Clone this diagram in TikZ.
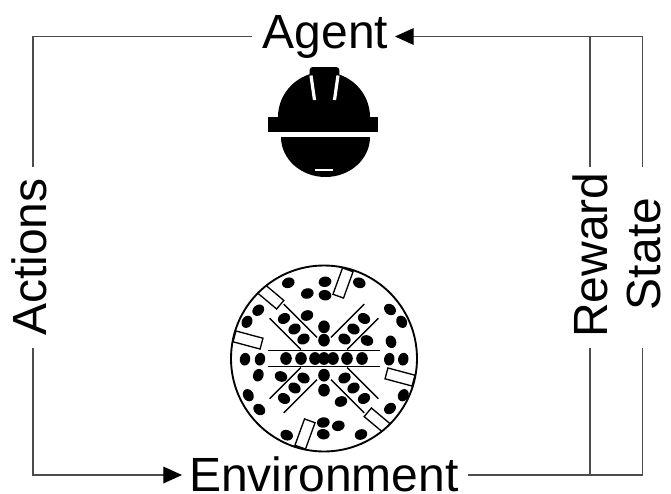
\documentclass[tikz,border=0pt]{standalone}
\usepackage{fontspec}
\setmainfont{Liberation Sans}
\usetikzlibrary{arrows.meta}
\begin{document}
\begin{tikzpicture}[x=0.75pt,y=-0.75pt,
  wire/.style={line width=0.9pt, draw=black!70},
  headtip/.style={-{Triangle[length=14pt,width=12.5pt,color=black]}},
  lbl/.style={font=\fontsize{36}{40}\selectfont, inner sep=0pt, text=black},
  slotbox/.style={draw=black, fill=white, line width=1pt, minimum width=21pt,
    minimum height=8.4pt, inner sep=0pt, shape=rectangle},
  cutline/.style={line width=1pt, draw=black}]
\useasboundingbox (0,0) rectangle (671,493);

% ---- labels ----
\node[lbl, anchor=base] (agent) at (325.5,48) {Agent};
\node[lbl, anchor=base] (env) at (324,491) {Environment};
\node[lbl, anchor=base, rotate=90] (actions) at (46,257) {Actions};
\node[lbl, anchor=base, rotate=90] (reward) at (607,255) {Reward};
\node[lbl, anchor=base, rotate=90] (state) at (660,254) {State};

% ---- loop ends ----
\coordinate (agentW) at (252,36.5);
\coordinate (agentE) at (395,36.5);
\coordinate (envW) at (182,475);
\coordinate (envE) at (468,475);
\coordinate (actN) at (33,167);
\coordinate (actS) at (33,348);
\coordinate (rewN) at (590,167);
\coordinate (rewS) at (590,348);
\coordinate (rewTop) at (590,36.5);
\coordinate (rewFoot) at (590,475);
\coordinate (stN) at (642.5,167);
\coordinate (stS) at (642.5,348);

\draw[wire] (agentW) -| (actN);
\draw[wire, headtip] (actS) |- (envW);
\draw[wire] (envE) -| (stS);
\draw[wire, headtip] (stN) |- (agentE);
\draw[wire] (rewS) -- (rewFoot);
\draw[wire] (rewN) -- (rewTop);

% ---- helmet ----
\fill (278,117) arc[start angle=180,end angle=360,x radius=46,y radius=45] -- cycle;
\fill[rounded corners=2.5pt] (310,100) -- (309.5,67) -- (339.5,67) -- (339,100) -- cycle;
\draw[white, line width=2.4pt] (311,75.5) -- (314.5,100);
\draw[white, line width=2.4pt] (338,75.5) -- (334.5,100);
\fill (268,117) rectangle (378,132);
\fill (281,137) -- (370,137) arc[start angle=0,end angle=180,x radius=44.5,y radius=40] -- cycle;
\draw[white, line width=1.6pt] (315,170) -- (333,170);

% ---- cutterhead ----
\begin{scope}[shift={(324,358.5)}]
  \fill[white] (0,0) circle[radius=93];
  % cutter discs
  \foreach \x/\y/\a in {
    -35.7/-75.7/20, 35.3/-75.7/-20, 1/-76.7/10, 1/-63.3/-10, -16.7/-65/15,
    -65.7/-48.3/40, -77/-36.7/60, 66/-49/-40, 77.7/-36.7/-60, 67/-16.7/-70,
    -79/0.7/80, -64/0.7/80, 65.3/0.7/80, 79.3/0.7/80,
    -65.7/16.7/70, -75.7/36.7/-60, -64.7/51/-40, 79.3/36.7/60, 66/50/40,
    -0.7/64/10, -0.7/75.7/-10, 14.3/67.3/15, -37.3/76.7/-20, 37/76/20,
    -40/-40/30, -29.5/-29.5/30, -20.5/-19.5/30,
    40/-40/-30, 29.5/-29.5/-30, 20.5/-19.5/-30,
    -40/40/-30, -29.5/29.5/-30, -20.5/19.5/-30,
    40/40/30, 29.5/29.5/30, 20.5/19.5/30,
    -17/-43/20, 17/43/20, 43/-18/-20, -43/18/-20}
    \fill[rotate around={\a:(\x,\y)}] (\x,\y) ellipse[x radius=6.4, y radius=5.2];
  % discs along the centre cross
  \foreach \x/\y in {0/-31.7, 0/-18.3, 0/16.7, 0/31.7,
    -38/0, -23/0, -9/0, 0/0, 9/0, 23/0, 38/0}
    \fill (\x,\y) ellipse[x radius=5.8, y radius=6.4];
  % guide rails
  \draw[cutline] (-56,-8.3) -- (56,-8.3);
  \draw[cutline] (-56,8.3) -- (56,8.3);
  \foreach \sx/\sy in {-1/-1, 1/-1, -1/1, 1/1} {
    \draw[cutline] ({\sx*54.4},{\sy*40.3}) -- ({\sx*23.1},{\sy*9});
    \draw[cutline] ({\sx*40.3},{\sy*54.4}) -- ({\sx*7},{\sy*21.1});
  }
  % muck openings
  \begin{scope}
    \clip (0,0) circle[radius=93];
    \node[slotbox, rotate=70] (slotT) at (19,-75.5) {};
    \node[slotbox, rotate=70] (slotB) at (-19,75.5) {};
    \node[slotbox, rotate=165] (slotL) at (-76,-18.5) {};
    \node[slotbox, rotate=165] (slotR) at (76,18.5) {};
    \node[slotbox, rotate=140] (slotUL) at (-54.5,-62.8) {};
    \node[slotbox, rotate=140] (slotLR) at (54.5,62.8) {};
  \end{scope}
  \draw[line width=1.4pt] (0,0) circle[radius=93];
\end{scope}
\end{tikzpicture}
\end{document}
